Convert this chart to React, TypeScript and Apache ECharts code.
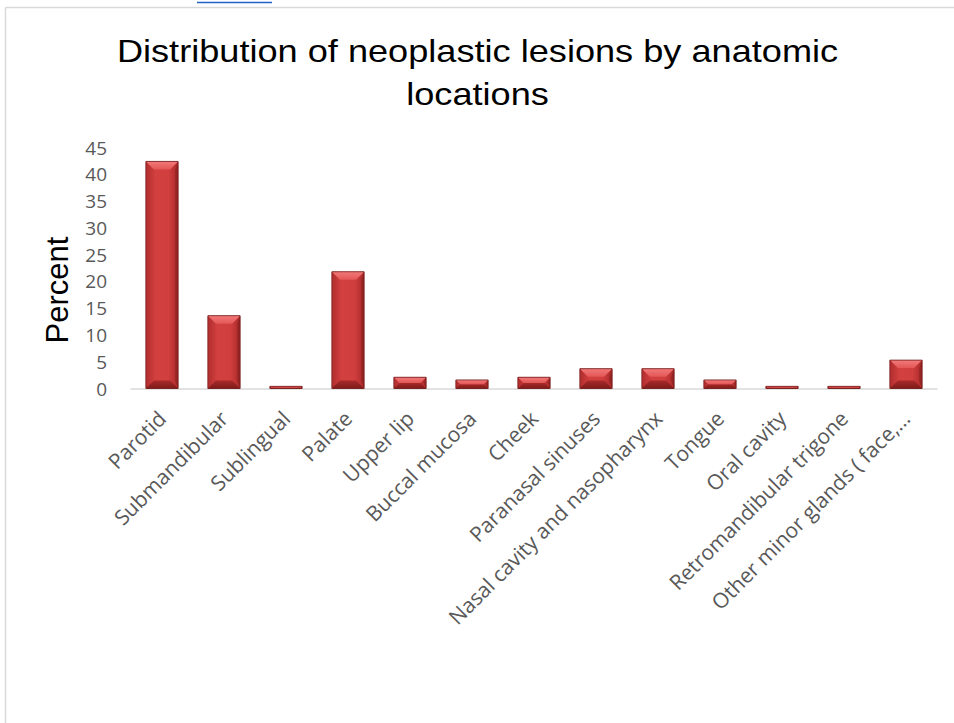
import React, { useEffect, useRef } from "react";
import * as echarts from "echarts";

// Share of neoplastic lesions per anatomic site (%)
const categories: string[] = [
  "Parotid",
  "Submandibular",
  "Sublingual",
  "Palate",
  "Upper lip",
  "Buccal mucosa",
  "Cheek",
  "Paranasal sinuses",
  "Nasal cavity and nasopharynx",
  "Tongue",
  "Oral cavity",
  "Retromandibular trigone",
  "Other minor glands ( face,…",
];
const percents: number[] = [42.4, 13.6, 0.4, 21.8, 2.1, 1.6, 2.1, 3.7, 3.7, 1.6, 0.4, 0.4, 5.3];

// Value axis range
const yMin = 0;
const yMax = 45;
const yStep = 5;

const titleLines: string[] = ["Distribution of neoplastic lesions by anatomic", "locations"];
const yAxisTitle = "Percent";

const GREY_TEXT = "#595959";
const AXIS_GREY = "#d9d9d9";

// Bevelled bar, drawn from the axis scale
function renderBevelBar(params: any, api: any) {
  const idx = api.value(0);
  const v = api.value(1);
  const top = api.coord([idx, v]);
  const base = api.coord([idx, 0]);
  const bw = api.size([1, 0])[0] * 0.52;
  const x0 = top[0] - bw / 2;
  const x1 = top[0] + bw / 2;
  const y0 = top[1];
  const y1 = base[1];
  const h = Math.max(y1 - y0, 0.5);
  const d = Math.min(8, h / 2, bw / 2);
  const body = new echarts.graphic.LinearGradient(0, 0, 1, 0, [
    { offset: 0, color: "#b02c2c" },
    { offset: 0.3, color: "#d34040" },
    { offset: 0.7, color: "#d13e3e" },
    { offset: 1, color: "#a92929" },
  ]);
  const topFace = new echarts.graphic.LinearGradient(0, 0, 0, 1, [
    { offset: 0, color: "#f27a7a" },
    { offset: 1, color: "#e45656" },
  ]);
  const bottomFace = new echarts.graphic.LinearGradient(0, 0, 0, 1, [
    { offset: 0, color: "#a82a2a" },
    { offset: 1, color: "#7e1a1a" },
  ]);
  return {
    type: "group",
    children: [
      {
        type: "rect",
        shape: { x: x0, y: y0, width: bw, height: h },
        style: { fill: body },
      },
      {
        type: "polygon",
        shape: { points: [[x0, y0 + h], [x1, y0 + h], [x1 - d, y0 + h - d], [x0 + d, y0 + h - d]] },
        style: { fill: bottomFace },
      },
      {
        type: "polygon",
        shape: { points: [[x0, y0], [x0 + d * 0.35, y0 + d], [x0 + d * 0.35, y0 + h - d], [x0, y0 + h]] },
        style: { fill: "#b83232" },
      },
      {
        type: "polygon",
        shape: { points: [[x1, y0], [x1 - d * 0.35, y0 + d], [x1 - d * 0.35, y0 + h - d], [x1, y0 + h]] },
        style: { fill: "#962424" },
      },
      {
        type: "polygon",
        shape: { points: [[x0, y0], [x1, y0], [x1 - d, y0 + d], [x0 + d, y0 + d]] },
        style: { fill: topFace },
      },
      {
        type: "rect",
        shape: { x: x0, y: y0, width: bw, height: h },
        style: { fill: "none", stroke: "#701818", lineWidth: 0.8 },
      },
    ],
  };
}

export default function App() {
  const ref = useRef<HTMLDivElement>(null);

  useEffect(() => {
    if (!ref.current) return;
    const chart = echarts.init(ref.current, null, { renderer: "svg" });
    const option: any = {
      animation: false,
      backgroundColor: "#ffffff",
      grid: { left: 131, right: 17, top: 147.5, bottom: 334.5, containLabel: false },
      xAxis: {
        type: "category",
        data: categories,
        axisLine: { show: true, lineStyle: { color: AXIS_GREY, width: 1.5 } },
        axisTick: { show: false },
        splitLine: { show: false },
        axisLabel: {
          interval: 0,
          rotate: 45,
          margin: 26,
          color: GREY_TEXT,
          fontFamily: "Open Sans",
          fontSize: 21,
        },
      },
      yAxis: {
        type: "value",
        min: yMin,
        max: yMax,
        interval: yStep,
        axisLine: { show: false },
        axisTick: { show: false },
        splitLine: { show: false },
        axisLabel: {
          margin: 24,
          color: GREY_TEXT,
          fontFamily: "Open Sans",
          fontSize: 19,
        },
      },
      series: [
        {
          type: "custom",
          renderItem: renderBevelBar,
          encode: { x: 0, y: 1 },
          data: percents.map((p, i) => [i, p]),
        },
      ],
      graphic: [
        // frame edges
        {
          type: "line",
          shape: { x1: 5.5, y1: 7.5, x2: 960, y2: 7.5 },
          style: { stroke: AXIS_GREY, lineWidth: 1.5 },
        },
        {
          type: "line",
          shape: { x1: 5.5, y1: 7.5, x2: 5.5, y2: 730 },
          style: { stroke: AXIS_GREY, lineWidth: 1.5 },
        },
        // hyperlink underline above the frame
        {
          type: "line",
          shape: { x1: 197, y1: 2.5, x2: 272, y2: 2.5 },
          style: { stroke: "#1f63c6", lineWidth: 1.5 },
        },
        {
          type: "text",
          x: 477.5,
          y: 51,
          scaleX: 1.13,
          style: {
            text: titleLines[0],
            font: '32px "Liberation Sans", Arial, sans-serif',
            fill: "#000000",
            align: "center",
            verticalAlign: "middle",
          },
        },
        {
          type: "text",
          x: 477.5,
          y: 94,
          scaleX: 1.13,
          style: {
            text: titleLines[1],
            font: '32px "Liberation Sans", Arial, sans-serif',
            fill: "#000000",
            align: "center",
            verticalAlign: "middle",
          },
        },
        {
          type: "text",
          x: 57,
          y: 290,
          rotation: Math.PI / 2,
          style: {
            text: yAxisTitle,
            font: '31px "Liberation Sans", Arial, sans-serif',
            fill: "#000000",
            align: "center",
            verticalAlign: "middle",
          },
        },
      ],
    };
    chart.setOption(option);
    return () => chart.dispose();
  }, []);

  return (
    <div
      ref={ref}
      style={{ position: "fixed", left: 0, top: 0, width: 954, height: 723, background: "#fff" }}
    />
  );
}
